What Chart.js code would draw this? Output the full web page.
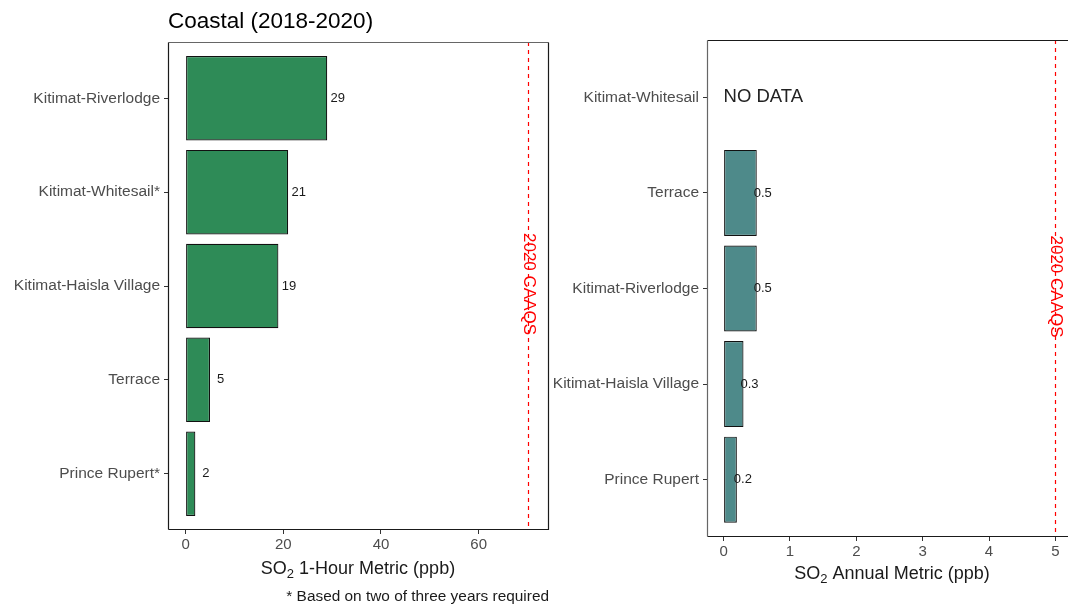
<!DOCTYPE html>
<html>
<head>
<meta charset="utf-8">
<script src="https://cdn.jsdelivr.net/npm/chart.js@4.4.1/dist/chart.umd.min.js"></script>
<style>
  html, body { margin: 0; padding: 0; background: #fff; overflow: hidden; width: 1068px; height: 606px; }
  #wrap { position: relative; width: 1068px; height: 606px; overflow: hidden; }
  .box { position: absolute; top: 0; }
</style>
</head>
<body>
<div id="wrap">
  <div class="box" style="left:0;width:550px;height:606px"><canvas id="hourly" width="550" height="606"></canvas></div>
  <div class="box" style="left:550px;width:530px;height:606px"><canvas id="annual" width="530" height="606"></canvas></div>
</div>
<script>
// SO2 metrics for coastal stations, 2018-2020
const hourStations = ['Kitimat-Riverlodge', 'Kitimat-Whitesail*', 'Kitimat-Haisla Village', 'Terrace', 'Prince Rupert*'];
const hourValues = [29, 21, 19, 5, 2];
const hourTicks = [0, 20, 40, 60];
const hourStandard = 70;

const annualStations = ['Kitimat-Whitesail', 'Terrace', 'Kitimat-Riverlodge', 'Kitimat-Haisla Village', 'Prince Rupert'];
const annualValues = [null, 0.5, 0.5, 0.3, 0.2];
const annualTicks = [0, 1, 2, 3, 4, 5];
const annualStandard = 5;

const standardLabel = '2020 CAAQS';
const FONT = '"Liberation Sans", Arial, sans-serif';

// Draws the panel frame, standard line, bar labels and titles
const panelPlugin = {
  id: 'panel',
  afterDatasetsDraw(chart, args, o) {
    const ctx = chart.ctx;
    const a = chart.chartArea;
    const xs = chart.scales.x, ys = chart.scales.y;
    ctx.save();

    // value labels
    ctx.fillStyle = '#1a1a1a';
    ctx.font = '13px ' + FONT;
    ctx.textAlign = 'center';
    ctx.textBaseline = 'middle';
    o.values.forEach((v, i) => {
      if (v === null) {
        if (o.missingText) {
          ctx.save();
          ctx.font = '18.5px ' + FONT;
          ctx.fillStyle = '#222';
          ctx.textAlign = 'left';
          ctx.fillText(o.missingText, xs.getPixelForValue(0), ys.getPixelForValue(i + 1));
          ctx.restore();
        }
        return;
      }
      ctx.fillText(String(v), xs.getPixelForValue(v) + o.labelShift, ys.getPixelForValue(i + 1));
    });

    // standard reference line
    const sx = Math.round(xs.getPixelForValue(o.standard)) + 0.5;
    ctx.strokeStyle = '#ff0000';
    ctx.lineWidth = 1.2;
    ctx.setLineDash([4, 4]);
    ctx.beginPath();
    ctx.moveTo(sx, a.top);
    ctx.lineTo(sx, a.bottom);
    ctx.stroke();
    ctx.setLineDash([]);

    ctx.save();
    ctx.translate(sx, (a.top + a.bottom) / 2 - 2);
    ctx.rotate(Math.PI / 2);
    ctx.font = '17px ' + FONT;
    ctx.fillStyle = '#ff0000';
    ctx.textAlign = 'center';
    ctx.textBaseline = 'middle';
    ctx.fillText(standardLabel, 0, 0);
    ctx.restore();

    // frame
    const l = Math.round(a.left) + 0.5, r = Math.round(a.right) - 0.5;
    const t = Math.round(a.top) + 0.5, b = Math.round(a.bottom) - 0.5;
    ctx.lineWidth = 1.2;
    ctx.strokeStyle = o.topColor;
    ctx.beginPath(); ctx.moveTo(l, t); ctx.lineTo(r, t); ctx.stroke();
    ctx.strokeStyle = '#1a1a1a';
    ctx.beginPath(); ctx.moveTo(r, t); ctx.lineTo(r, b); ctx.lineTo(l, b); ctx.stroke();
    ctx.strokeStyle = o.leftColor;
    ctx.beginPath(); ctx.moveTo(l, b); ctx.lineTo(l, t); ctx.stroke();

    // axis title with subscript
    ctx.fillStyle = '#1a1a1a';
    ctx.textBaseline = 'alphabetic';
    ctx.textAlign = 'left';
    const big = '18px ' + FONT, small = '13px ' + FONT;
    ctx.font = big;
    const w1 = ctx.measureText('SO').width;
    const w3 = ctx.measureText(o.axisRest).width;
    ctx.font = small;
    const w2 = ctx.measureText('2').width;
    const x0 = o.axisCenter - (w1 + w2 + w3) / 2;
    const base = o.axisBase;
    ctx.font = big; ctx.fillText('SO', x0, base);
    ctx.font = small; ctx.fillText('2', x0 + w1, base + 4);
    ctx.font = big; ctx.fillText(o.axisRest, x0 + w1 + w2, base);

    if (o.title) {
      ctx.font = '22.5px ' + FONT;
      ctx.fillStyle = '#000';
      ctx.textBaseline = 'middle';
      ctx.fillText(o.title, a.left, 22);
    }
    if (o.note) {
      ctx.font = '15.4px ' + FONT;
      ctx.fillStyle = '#1a1a1a';
      ctx.textAlign = 'right';
      ctx.textBaseline = 'middle';
      ctx.fillText(o.note, a.right, 597);
    }
    ctx.restore();
  }
};

function makeChart(id, o) {
  const points = o.values.map((v, i) => ({ x: v, y: i + 1 })).filter(p => p.x !== null);
  return new Chart(document.getElementById(id), {
    type: 'bar',
    data: {
      datasets: [{
        data: points,
        backgroundColor: o.fill,
        borderColor: '#111',
        borderWidth: 1.2,
        borderSkipped: false,
        barPercentage: 0.9,
        categoryPercentage: 1
      }]
    },
    options: {
      indexAxis: 'y',
      responsive: false,
      animation: false,
      devicePixelRatio: 1,
      layout: { padding: { top: o.padTop, right: o.padRight, left: 0, bottom: 0 } },
      plugins: { legend: { display: false }, tooltip: { enabled: false }, panel: o },
      scales: {
        x: {
          type: 'linear', min: o.xMin, max: o.xMax, offset: false,
          afterBuildTicks: s => { s.ticks = o.ticks.map(v => ({ value: v })); },
          afterFit: s => { s.height = o.axisH; },
          grid: { drawOnChartArea: false, drawTicks: true, tickLength: 4, color: '#333', offset: false },
          border: { display: false },
          ticks: { color: '#4d4d4d', font: { family: FONT, size: 15 }, padding: 2, autoSkip: false, maxRotation: 0 }
        },
        y: {
          type: 'linear', min: 0.4, max: o.stations.length + 0.6, reverse: true, offset: false,
          afterBuildTicks: s => { s.ticks = o.stations.map((_, i) => ({ value: i + 1 })); },
          afterFit: s => { s.width = o.axisW; },
          grid: { drawOnChartArea: false, drawTicks: true, tickLength: 4, color: '#333', offset: false },
          border: { display: false },
          ticks: { color: '#4d4d4d', font: { family: FONT, size: 15.5 }, padding: 4, autoSkip: false,
                   callback: v => o.stations[Math.round(v) - 1] }
        }
      }
    },
    plugins: [panelPlugin]
  });
}

makeChart('hourly', {
  stations: hourStations, values: hourValues, ticks: hourTicks, standard: hourStandard,
  xMin: -3.6, xMax: 74.4, fill: '#2e8b57',
  padTop: 42, padRight: 1, axisW: 168, axisH: 76,
  labelShift: 10.5, topColor: '#666', leftColor: '#1a1a1a',
  axisRest: ' 1-Hour Metric (ppb)', axisCenter: 358, axisBase: 574,
  title: 'Coastal (2018-2020)', note: '* Based on two of three years required'
});

makeChart('annual', {
  stations: annualStations, values: annualValues, ticks: annualTicks, standard: annualStandard,
  xMin: -0.25, xMax: 5.25, fill: '#4e8a8a',
  padTop: 40, padRight: 8, axisW: 157, axisH: 69,
  labelShift: 6, topColor: '#1a1a1a', leftColor: '#666',
  missingText: 'NO DATA',
  axisRest: ' Annual Metric (ppb)', axisCenter: 342, axisBase: 579
});
</script>
</body>
</html>
